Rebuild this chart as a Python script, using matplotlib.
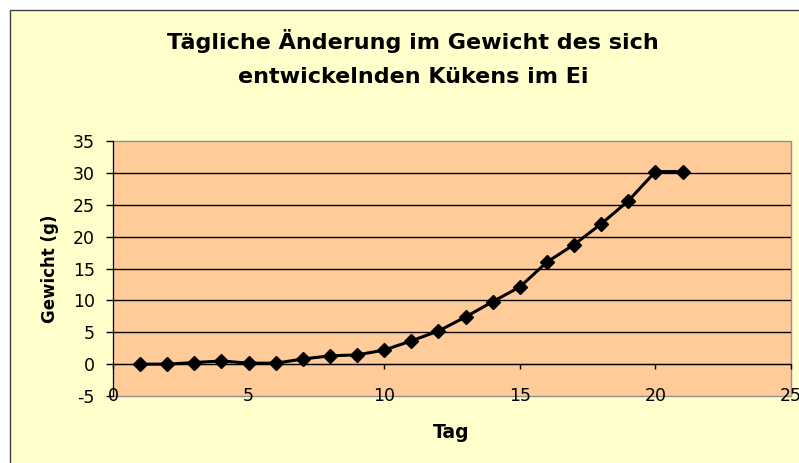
import matplotlib
matplotlib.use("Agg")
import matplotlib.pyplot as plt
from matplotlib.patches import Rectangle

plt.rcParams["axes.unicode_minus"] = False

# Tag der Bebrütung und Gewicht des Kükens (g)
tage = [1, 2, 3, 4, 5, 6, 7, 8, 9, 10, 11, 12, 13, 14, 15, 16, 17, 18, 19, 20, 21]
gewicht = [0.0, 0.0, 0.25, 0.5, 0.15, 0.15, 0.8, 1.3, 1.45, 2.2, 3.65, 5.2,
           7.4, 9.8, 12.1, 16.0, 18.75, 22.0, 25.6, 30.2, 30.2]

x_ticks = [0, 5, 10, 15, 20, 25]
y_ticks = [-5, 0, 5, 10, 15, 20, 25, 30, 35]

W, H = 799, 463
fig = plt.figure(figsize=(W / 100, H / 100), dpi=100, facecolor="white")

# chart area (yellow, border only on top and left visible)
fig.patches.append(Rectangle((10 / W, -0.5), 2.0, (H - 10) / H + 0.5,
                             transform=fig.transFigure, facecolor="#FFFFCC",
                             edgecolor="#404040", lw=1.0, zorder=-10))

ax = fig.add_axes([113 / W, 67 / H, 678 / W, 255 / H])
ax.set_facecolor("#FFCC99")
ax.patch.set_edgecolor("#909090")
ax.patch.set_linewidth(1.0)

ax.set_xlim(x_ticks[0], x_ticks[-1])
ax.set_ylim(y_ticks[0], y_ticks[-1])
ax.set_xticks(x_ticks)
ax.set_yticks(y_ticks)

for yv in y_ticks[1:-1]:
    ax.axhline(yv, color="black", lw=1.0, zorder=1)

ax.spines["top"].set_visible(False)
ax.spines["right"].set_visible(False)
ax.spines["left"].set_color("black")
ax.spines["bottom"].set_position(("data", 0))
ax.spines["bottom"].set_color("black")

ax.tick_params(axis="x", direction="out", length=3.6, width=1, pad=13, labelsize=12.5)
ax.tick_params(axis="y", direction="out", length=5, width=1, pad=8, labelsize=12.5)

ax.plot(tage, gewicht, color="black", lw=2.2, marker="D", ms=7, zorder=3, clip_on=False)

fig.text(413 / W, 1 - 49 / H, "Tägliche Änderung im Gewicht des sich",
         ha="center", va="baseline", fontsize=16, fontweight="bold")
fig.text(413 / W, 1 - 83 / H, "entwickelnden Kükens im Ei",
         ha="center", va="baseline", fontsize=16, fontweight="bold")

fig.text(50 / W, 1 - 268.5 / H, "Gewicht (g)", rotation=90,
         ha="center", va="center", fontsize=12, fontweight="bold")
fig.text(451 / W, 1 - 432 / H, "Tag", ha="center", va="center",
         fontsize=13.5, fontweight="bold")

fig.savefig("out.png", dpi=100)
